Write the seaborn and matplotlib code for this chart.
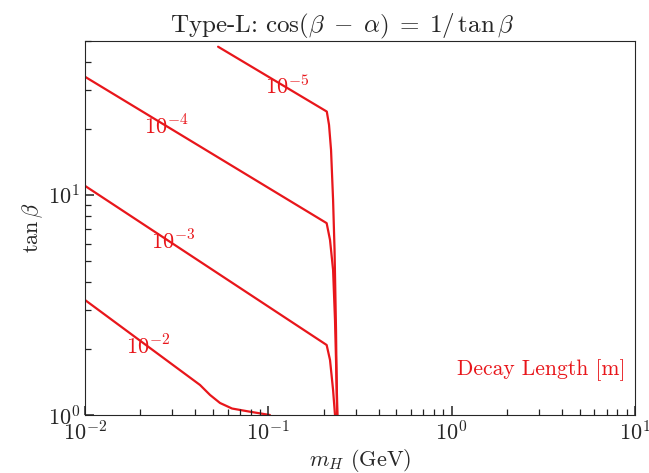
import numpy as np
import pandas as pd
import matplotlib
matplotlib.use("Agg")
import matplotlib.pyplot as plt
import seaborn as sns
from matplotlib.ticker import FixedLocator

# ---- data ----
levels = ["$10^{-5}$", "$10^{-4}$", "$10^{-3}$", "$10^{-2}$"]

m5 = [0.0532, 0.2084, 0.2143, 0.2198, 0.2255, 0.2297, 0.234, 0.2369]
t5 = [47.1, 23.9, 20.8, 16.0, 9.49, 5.62, 2.43, 1.0]

m4 = [0.010, 0.208, 0.217, 0.2255, 0.231, 0.2355, 0.2384]
t4 = [34.4, 7.44, 6.24, 4.56, 2.70, 1.44, 1.0]

m3 = [0.010, 0.208, 0.217, 0.2255, 0.231]
t3 = [10.99, 2.08, 1.778, 1.299, 1.0]

m2 = [0.010, 0.0424, 0.0481, 0.0545, 0.0634, 0.0794, 0.102]
t2 = [3.33, 1.369, 1.233, 1.134, 1.070, 1.035, 1.0]

label_x = [0.126, 0.0279, 0.0302, 0.0221]
label_y = [31.1, 20.4, 6.13, 2.04]

curves = [(m5, t5), (m4, t4), (m3, t3), (m2, t2)]

# ---- style ----
sns.set_style("ticks")
plt.rcParams["font.family"] = ["cmr10", "DejaVu Serif"]
plt.rcParams["mathtext.fontset"] = "cm"
plt.rcParams["axes.formatter.use_mathtext"] = True
plt.rcParams["axes.unicode_minus"] = False
plt.rcParams["axes.axisbelow"] = False

fig = plt.figure(figsize=(6.49, 4.73), dpi=100)
ax = fig.add_axes([85/649, 1-415/473, 550/649, 374/473])

red = "#e8161b"
for lev, (mx, ty) in zip(levels, curves):
    df = pd.DataFrame({"m": mx, "t": ty})
    sns.lineplot(data=df, x="m", y="t", sort=False, estimator=None,
                 color=red, linewidth=1.6, ax=ax)

ax.set_xscale("log")
ax.set_yscale("log")
ax.set_xlim(0.01, 10)
ax.set_ylim(1, 50)

for lev, lx, ly in zip(levels, label_x, label_y):
    ax.text(lx, ly, lev, color=red, fontsize=16, ha="center", va="center")

ax.set_xlabel("$m_H$ (GeV)", fontsize=16, labelpad=2)
ax.set_ylabel(r"$\tan\beta$", fontsize=16, labelpad=2)
ax.set_title(r"Type-L: $\cos(\beta\;-\;\alpha)\;=\;1/\,\tan\beta$",
             fontsize=18, pad=6, x=0.468)

ax.text(0.982, 0.12, "Decay Length [m]", color=red, fontsize=15.5,
        ha="right", va="center", transform=ax.transAxes)

xminor = [k * 10.0 ** e for e in range(-2, 1) for k in range(2, 10)]
ax.xaxis.set_minor_locator(FixedLocator(xminor))
ax.set_axisbelow(False)
ax.xaxis.set_zorder(3)
ax.yaxis.set_zorder(3)
ax.tick_params(which="both", direction="in", labelsize=16, color="#222222",
               bottom=True, left=True, top=False, right=False)
ax.tick_params(which="major", length=6.5, width=1.1)
ax.tick_params(which="minor", length=4, width=0.9)

fig.canvas.draw()
fig.savefig("out.png", dpi=100)
